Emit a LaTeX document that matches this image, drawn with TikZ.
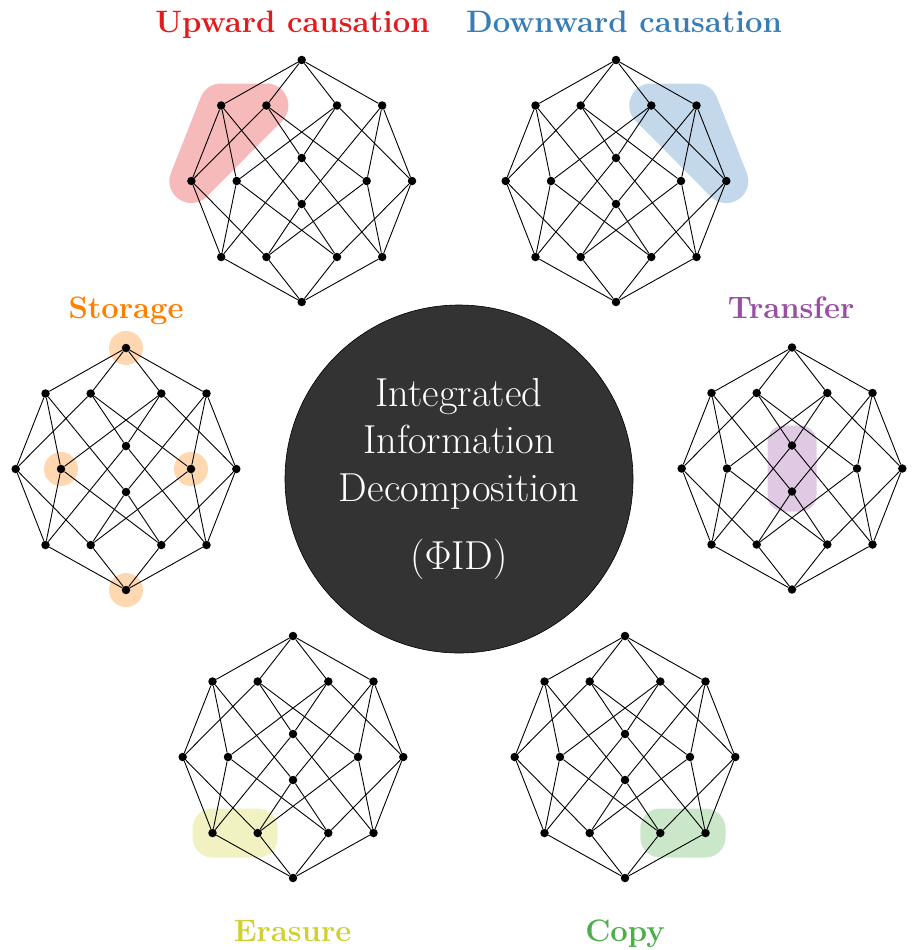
\RequirePackage{fix-cm}
\documentclass[tikz,border=0pt]{standalone}
\usetikzlibrary{calc,backgrounds}

\definecolor{upred}{HTML}{E41A1C}
\definecolor{downblue}{HTML}{377EB8}
\definecolor{storeorange}{HTML}{FF7F00}
\definecolor{transpurple}{HTML}{984EA3}
\definecolor{erasyellow}{HTML}{D0D030}
\definecolor{copygreen}{HTML}{4DAF4A}
\definecolor{phigray}{HTML}{333333}

\tikzset{
  dot/.style={circle,fill=black,inner sep=0pt,minimum size=8.5pt},
  link/.style={line width=0.9pt},
  title/.style={font=\fontsize{31}{37}\selectfont\bfseries,anchor=base},
}

% one PhiID lattice, #1 = prefix, (#2,#3) = centre
\newcommand{\phidlattice}[3]{%
\begin{scope}[shift={(#2,#3)}]
\node[dot] (#1-T) at (0,-121) {};
\node[dot] (#1-A1) at (-80.5,-75.5) {};
\node[dot] (#1-A2) at (-35.3,-75.5) {};
\node[dot] (#1-A3) at (35.3,-75.5) {};
\node[dot] (#1-A4) at (80.5,-75.5) {};
\node[dot] (#1-U) at (0,-23) {};
\node[dot] (#1-B1) at (-110.3,0) {};
\node[dot] (#1-B2) at (-65,0) {};
\node[dot] (#1-B3) at (65,0) {};
\node[dot] (#1-B4) at (110.3,0) {};
\node[dot] (#1-L) at (0,23) {};
\node[dot] (#1-C1) at (-80.5,76) {};
\node[dot] (#1-C2) at (-35.3,76) {};
\node[dot] (#1-C3) at (35.3,76) {};
\node[dot] (#1-C4) at (80.5,76) {};
\node[dot] (#1-Bot) at (0,121) {};
\foreach \a/\b in {T/A1,T/A2,T/A3,T/A4,
  A1/B1,A1/B2,A1/L,A2/B1,A2/B3,A2/U,A3/B4,A3/B2,A3/U,A4/B4,A4/B3,A4/L,
  C1/B1,C1/B2,C1/U,C2/B1,C2/B3,C2/L,C3/B4,C3/B2,C3/L,C4/B4,C4/B3,C4/U,
  Bot/C1,Bot/C2,Bot/C3,Bot/C4}
  \draw[link] (#1-\a) -- (#1-\b);
\end{scope}}

\begin{document}
\begin{tikzpicture}[x=1pt,y=-1pt]
\useasboundingbox (0,0) rectangle (914,950);

% centre
\node[circle,draw=black,line width=0.6pt,fill=phigray,minimum size=348pt,
  text=white,align=center,font=\fontsize{40.5}{47.5}\selectfont] (phid) at (459,479)
  {Integrated\\Information\\Decomposition\\[21pt]($\Phi$ID)};

% lattices
\phidlattice{u}{301.7}{181}
\phidlattice{d}{616}{181}
\phidlattice{s}{126}{469}
\phidlattice{t}{792}{468.5}
\phidlattice{e}{293}{757}
\phidlattice{c}{625}{757}

% titles
\node[title,text=upred] (uname) at (292.5,33) {Upward causation};
\node[title,text=downblue] (dname) at (624,33) {Downward causation};
\node[title,text=storeorange] (sname) at (126,318) {Storage};
\node[title,text=transpurple] (tname) at (791,318) {Transfer};
\node[title,text=erasyellow] (ename) at (292.5,941) {Erasure};
\node[title,text=copygreen] (cname) at (625,941) {Copy};

% highlights
\begin{scope}[on background layer]
\filldraw[upred!30,line width=44pt,line join=round]
  (u-B1.center) -- (u-A1.center) -- (u-A2.center) -- cycle;
\filldraw[downblue!30,line width=44pt,line join=round]
  (d-A3.center) -- (d-A4.center) -- (d-B4.center) -- cycle;
\foreach \n in {T,B2,B3,Bot}
  \fill[storeorange!30] (s-\n) circle (17);
\fill[transpurple!30,rounded corners=16pt]
  ($(t-U)+(-24.5,-20)$) rectangle ($(t-L)+(24.5,20)$);
\fill[erasyellow!30,rounded corners=20pt]
  ($(e-C1)+(-20,-24.5)$) rectangle ($(e-C2)+(20,24.5)$);
\fill[copygreen!30,rounded corners=20pt]
  ($(c-C3)+(-20,-24.5)$) rectangle ($(c-C4)+(20,24.5)$);
\end{scope}
\end{tikzpicture}
\end{document}
